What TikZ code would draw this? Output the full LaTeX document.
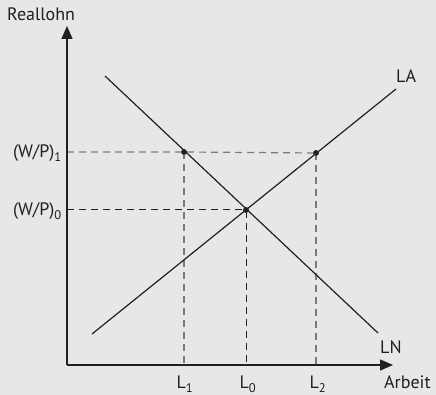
\documentclass[tikz,border=0pt]{standalone}
\usepackage{fontspec}
\setmainfont{PT Sans}
\usetikzlibrary{arrows.meta}
\definecolor{bg}{HTML}{E6E7E8}
\definecolor{ink}{HTML}{231F20}
\definecolor{dgrey}{HTML}{7A7A7A}
\tikzset{
  axis/.style={draw=ink, line width=1.4pt, -{Triangle[length=13pt,width=11pt]}},
  curve/.style={draw=ink, line width=1.2pt},
  guide/.style={draw=dgrey, line width=1.2pt, dash pattern=on 7pt off 5pt},
  guidedark/.style={draw=ink, line width=1pt, dash pattern=on 7pt off 5pt},
  dot/.style={circle, fill=ink, inner sep=0pt, minimum size=5.5pt},
  lbl/.style={inner sep=0pt, font=\fontsize{18}{20}\selectfont, text=ink},
}
\begin{document}
\begin{tikzpicture}[x=1pt,y=1pt]
\fill[bg] (0,0) rectangle (436,395);
\useasboundingbox (0,0) rectangle (436,395);
% coordinates (y = 395 - pixel y)
\coordinate (O) at (67,30);
\coordinate (Ytop) at (67,369);
\coordinate (Xend) at (393,30);
\coordinate (LNs) at (105,319);
\coordinate (LNe) at (378,62);
\coordinate (LAs) at (92,61);
\coordinate (LAe) at (396,306);
\node[dot] (A) at (184,243) {};
\node[dot] (E) at (246,185) {};
\node[dot] (B) at (316,242) {};
\coordinate (Ay) at (67,243);
\coordinate (Ax) at (184,30);
\coordinate (Ey) at (67,185);
\coordinate (Ex) at (246,30);
\coordinate (Bx) at (316,30);
% guides
\draw[guide] (Ay) -- (A.center) -- (B.center);
\draw[guide] (A.center) -- (Ax);
\draw[guide] (B.center) -- (Bx);
\draw[guidedark] (Ey) -- (E.center) -- (Ex);
% curves
\draw[curve] (LNs) -- (LNe);
\draw[curve] (LAs) -- (LAe);
% axes
\draw[axis] (O) -- (Ytop);
\draw[axis] (O) -- (Xend);
\node[dot] at (A) {};
\node[dot] at (E) {};
\node[dot] at (B) {};
% labels
\node[lbl, anchor=base west] (yl) at (7,374) {Reallohn};
\node[lbl, anchor=base west] (xl) at (384,6) {Arbeit};
\node[lbl, anchor=base west] (la) at (396,312) {LA};
\node[lbl, anchor=base west] (ln) at (380,41) {LN};
\node[lbl, anchor=base east] (w1) at (62,237) {(W/P)\textsubscript{1}};
\node[lbl, anchor=base east] (w0) at (62,179) {(W/P)\textsubscript{0}};
\node[lbl, anchor=base] (l1) at (185,6) {L\textsubscript{1}};
\node[lbl, anchor=base] (l0) at (248,6) {L\textsubscript{0}};
\node[lbl, anchor=base] (l2) at (318,6) {L\textsubscript{2}};
\end{tikzpicture}
\end{document}
